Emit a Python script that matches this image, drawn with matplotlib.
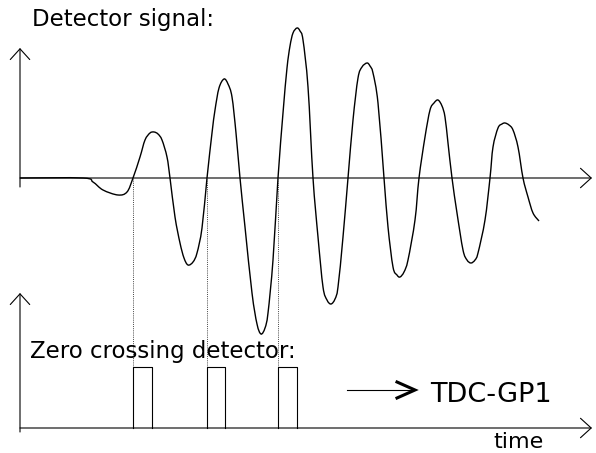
import numpy as np
import matplotlib.pyplot as plt
from matplotlib.patches import FancyArrowPatch, PathPatch
from matplotlib.path import Path

plt.rcParams['font.family'] = 'DejaVu Sans'

# detector signal (time, amplitude above baseline)
sig_t = [20, 83, 93, 103, 118, 127, 133, 140, 145, 150, 154, 158, 162, 167, 170,
         175, 180, 184, 188, 193, 197, 202, 207, 212, 215, 219, 224, 228, 232, 236, 240,
         245, 252, 257, 261, 265, 268, 273, 278, 283, 287, 290, 293, 297, 300, 303, 308, 313,
         318, 323, 327, 331, 335, 338, 343, 348, 353, 358, 362, 367, 370, 373, 378, 384,
         388, 393, 397, 400, 404, 408, 415, 419, 425, 430, 434, 438, 442, 445, 448, 452,
         457, 463, 467, 471, 475, 478, 485, 490, 493, 498, 502, 505, 509, 513, 518, 523,
         528, 533, 539]
sig_v = [0, 0, -4, -12, -17, -14, 0, 21, 38, 45, 46, 44, 38, 21, 0,
         -39, -65, -80, -87, -84, -75, -50, 0, 45, 68, 90, 99, 94, 81, 45, 0,
         -49, -115, -146, -156, -150, -135, -82, 0, 65, 110, 132, 145, 150, 147, 138, 91, 0,
         -59, -109, -122, -126, -121, -109, -59, 0, 58, 100, 111, 115, 112, 105, 75, 0,
         -49, -89, -97, -99, -94, -82, -42, 0, 41, 68, 75, 78, 72, 61, 35, 0,
         -35, -72, -82, -85, -82, -75, -42, 0, 31, 50, 54, 55, 53, 48, 31, 0,
         -19, -35, -43]

# zero crossing detector pulses
pulse_start = [133, 207, 278]
pulse_end = [152, 225, 297]
pulse_high = 61

t_axis_start = 20
t_axis_end = 592
sig_base = 275
det_base = 25


def smooth_path(xs, ys):
    # catmull-rom through the read points, drawn as bezier segments
    p = np.column_stack([xs, ys]).astype(float)
    p = np.vstack([p[0], p, p[-1]])
    verts = [p[1]]
    codes = [Path.MOVETO]
    for i in range(1, len(p) - 2):
        c1 = p[i] + (p[i + 1] - p[i - 1]) / 6
        c2 = p[i + 1] - (p[i + 2] - p[i]) / 6
        verts += [c1, c2, p[i + 1]]
        codes += [Path.CURVE4] * 3
    return Path(verts, codes)


fig = plt.figure(figsize=(5.96, 4.53), dpi=100)
ax = fig.add_axes([0, 0, 1, 1])
ax.set_xlim(0, 596)
ax.set_ylim(0, 453)
ax.axis('off')

arrow_kw = dict(arrowstyle='->,head_length=0.55,head_width=0.5',
                mutation_scale=14, lw=0.8, color='black', shrinkA=0, shrinkB=0)

# upper axes
ax.add_patch(FancyArrowPatch((t_axis_start, sig_base - 9), (t_axis_start, 405), **arrow_kw))
ax.add_patch(FancyArrowPatch((t_axis_start, sig_base), (t_axis_end, sig_base), **arrow_kw))

# lower axes
ax.add_patch(FancyArrowPatch((t_axis_start, det_base - 4), (t_axis_start, 160), **arrow_kw))
ax.add_patch(FancyArrowPatch((t_axis_start, det_base), (t_axis_end, det_base), **arrow_kw))

# signal
ax.add_patch(PathPatch(smooth_path(sig_t, np.array(sig_v) + sig_base),
                       fill=False, edgecolor='black', lw=1.0))

# dotted guide lines from the zero crossings down to the pulses
for ts in pulse_start:
    ax.plot([ts, ts], [sig_base, det_base], color='#444444', lw=0.7, ls=(0, (1, 1.2)))

# pulses
for ts, te in zip(pulse_start, pulse_end):
    ax.plot([ts, ts, te, te], [det_base, det_base + pulse_high, det_base + pulse_high, det_base],
            color='black', lw=0.8)

# arrow to TDC-GP1
ax.plot([347, 413], [63, 63], color='black', lw=0.8)
ax.plot([397, 415, 397], [71, 63, 55], color='black', lw=2.2, solid_joinstyle='miter')

ax.text(32, 427, 'Detector signal:', fontsize=16.5, va='baseline', ha='left')
ax.text(30, 95, 'Zero crossing detector:', fontsize=16.5, va='baseline', ha='left')
ax.text(430, 51, 'TDC-GP1', fontsize=19.5, va='baseline', ha='left')
ax.text(493, 5, 'time', fontsize=16, va='baseline', ha='left')

fig.savefig('out.png', dpi=100)
